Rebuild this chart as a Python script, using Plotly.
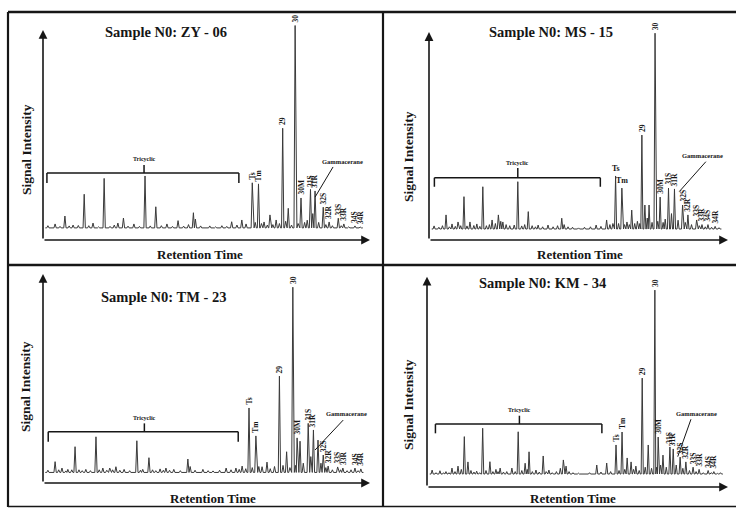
import plotly.graph_objects as go

W, H = 736, 508
FONT = "Liberation Serif"
INK = "#161616"
TRACE = "#3a3a3a"

# Hopane / terpane peak names shared by all four m/z 191 traces
PEAK_TAGS = ["Ts", "Tm", "29", "30", "30M", "31S", "31R", "32S", "32R", "33S", "33R", "34S", "34R"]

# ---- Sample ZY-06 : retention time (% of run) and relative intensity ----
ZY06_BASE = 5.5
ZY06_RT = [1.5, 3.7, 5.2, 6.7, 8.0, 9.2, 10.8, 12.6, 14.0, 15.3, 17.0, 18.7, 20.5, 21.8, 22.9,
           24.6, 26.0, 27.8, 29.5, 31.2, 32.8, 34.5, 36.2, 37.9, 39.6, 41.3, 43.0, 44.5, 46.0,
           46.6, 48.2, 51.0, 52.8, 54.7, 56.2, 57.7, 59.3, 60.8, 62.1, 64.0, 64.9, 65.9, 66.8,
           67.6, 68.6, 69.4, 70.3, 71.3, 72.3, 73.3, 74.2, 75.0, 76.0, 77.1, 78.0, 78.9, 80.0,
           80.8, 81.8, 82.5, 83.2, 84.3, 85.7, 86.5, 87.5, 88.5, 90.3, 91.2, 92.0, 93.5, 95.4, 97.0]
ZY06_INT = [6.5, 7.3, 6.2, 10.9, 6.4, 6.8, 6.6, 20.8, 6.5, 7.7, 6.0, 28.0, 6.2, 6.8, 7.7,
            10.0, 6.3, 7.3, 6.2, 29.1, 6.4, 15.1, 6.5, 7.3, 6.2, 8.8, 6.3, 7.0, 12.4,
            9.5, 6.4, 6.4, 6.0, 6.5, 6.2, 8.3, 6.8, 9.1, 7.3, 26.0, 8.0, 25.5, 7.5,
            8.2, 6.8, 11.4, 7.0, 9.1, 7.5, 50.8, 8.5, 14.4, 6.8, 97.5, 7.5, 19.1, 8.0,
            9.0, 23.0, 12.0, 22.3, 8.0, 14.9, 7.0, 8.2, 6.5, 9.9, 6.5, 7.3, 6.0, 6.4, 5.9]
ZY06_TAG_RT = [64.0, 65.9, 73.3, 77.1, 78.9, 81.8, 83.2, 85.7, 87.5, 90.3, 92.0, 95.4, 97.0]

# ---- Sample MS-15 ----
MS15_BASE = 5.0
MS15_RT = [1.7, 3.3, 4.5, 5.7, 6.8, 7.7, 8.8, 9.7, 10.6, 11.7, 12.7, 13.7, 15.0, 16.0, 17.0,
           18.0, 19.2, 20.2, 21.1, 22.2, 23.2, 24.0, 24.7, 25.8, 27.0, 28.5, 29.7, 31.0, 32.0,
           33.2, 34.5, 35.6, 36.5, 38.0, 39.8, 41.5, 43.0, 44.4, 45.2, 46.5, 48.0, 50.0, 52.0,
           54.0, 55.9, 57.5, 59.4, 60.5, 61.5, 62.4, 63.4, 64.5, 65.4, 66.2, 67.0, 67.8, 68.8,
           69.7, 70.5, 71.2, 72.2, 73.0, 73.6, 74.6, 75.6, 76.5, 77.3, 78.3, 79.0, 80.1, 81.1,
           82.1, 83.3, 84.8, 85.7, 86.6, 87.8, 89.5, 90.4, 91.3, 92.4, 93.3, 94.5, 95.7, 97.0]
MS15_INT = [6.4, 5.8, 6.5, 11.4, 6.0, 7.3, 6.2, 8.2, 6.5, 19.7, 6.4, 8.2, 6.6, 7.3, 6.2,
            24.2, 6.5, 7.0, 9.1, 7.5, 11.4, 8.5, 8.2, 7.0, 6.5, 6.8, 26.5, 6.4, 7.0,
            12.9, 6.5, 6.0, 6.8, 6.0, 6.8, 6.0, 6.5, 9.9, 7.0, 6.0, 5.8, 5.5, 5.8,
            6.0, 6.8, 6.2, 9.1, 7.0, 7.5, 29.1, 7.5, 23.6, 7.0, 8.2, 7.0, 13.6, 7.5,
            8.5, 7.5, 47.7, 15.9, 10.0, 15.9, 8.0, 94.0, 8.5, 19.5, 8.0, 9.5, 23.6, 12.0,
            23.2, 9.0, 15.9, 8.0, 11.4, 7.0, 9.1, 6.5, 7.0, 6.0, 7.0, 5.8, 6.2, 5.6]
MS15_TAG_RT = [62.4, 64.5, 71.2, 75.6, 77.3, 80.1, 82.1, 84.8, 86.6, 89.5, 91.3, 93.3, 95.7]

# ---- Sample TM-23 ----
TM23_BASE = 4.8
TM23_RT = [1.5, 3.7, 4.8, 5.8, 7.0, 7.6, 8.8, 9.8, 11.0, 12.0, 13.1, 14.5, 16.2, 17.2, 18.3,
           19.5, 20.4, 21.3, 22.3, 23.5, 24.8, 26.5, 28.7, 29.8, 30.5, 32.4, 33.5, 34.5, 35.8,
           36.8, 37.6, 38.7, 40.0, 42.0, 44.3, 45.0, 46.5, 48.9, 50.5, 52.0, 54.0, 56.0, 57.5,
           59.0, 60.0, 60.9, 62.0, 63.0, 64.0, 65.1, 66.0, 67.0, 68.5, 69.5, 70.8, 72.3, 73.4,
           74.5, 75.5, 76.4, 77.2, 77.7, 78.6, 79.6, 81.1, 81.9, 82.7, 84.1, 85.0, 85.7, 86.5,
           87.2, 88.5, 90.1, 91.0, 91.7, 93.0, 94.2, 95.4, 96.3, 97.2]
TM23_INT = [5.8, 9.7, 6.0, 6.8, 5.5, 6.2, 6.0, 16.5, 6.0, 5.6, 6.2, 5.6, 21.0, 6.0, 6.8,
            5.8, 6.8, 6.0, 7.4, 5.8, 6.2, 5.6, 19.2, 5.8, 6.2, 11.5, 6.0, 5.6, 6.4,
            5.8, 6.8, 5.8, 6.2, 5.6, 10.9, 7.5, 5.8, 6.2, 5.6, 5.5, 5.8, 6.8, 6.0,
            6.8, 6.2, 7.7, 6.5, 34.1, 7.0, 21.4, 7.5, 7.4, 9.5, 6.5, 7.5, 48.6, 8.0,
            14.2, 7.0, 89.0, 8.0, 20.5, 19.0, 9.0, 27.1, 12.0, 24.1, 19.5, 9.0, 12.7, 7.0,
            7.7, 6.0, 7.3, 6.0, 6.8, 5.6, 6.0, 6.8, 5.6, 6.4]
TM23_TAG_RT = [63.0, 65.1, 72.3, 76.4, 77.7, 81.1, 82.7, 85.7, 87.2, 90.1, 91.7, 95.4, 97.2]

# ---- Sample KM-34 ----
KM34_BASE = 5.9
KM34_RT = [1.7, 3.0, 4.3, 5.5, 6.3, 7.3, 8.3, 9.3, 10.3, 11.4, 12.4, 13.6, 14.6, 15.6, 16.5,
           17.5, 18.5, 19.6, 20.9, 21.9, 22.9, 23.6, 24.3, 25.4, 26.5, 28.2, 29.3, 30.3, 31.5,
           32.6, 33.3, 33.9, 35.0, 36.2, 37.3, 38.6, 39.6, 40.5, 41.6, 43.0, 44.3, 45.3, 46.2,
           47.2, 48.5, 50.3, 52.0, 54.0, 56.4, 57.8, 59.7, 61.0, 62.8, 63.8, 64.8, 65.7, 66.5,
           67.8, 68.6, 69.4, 70.5, 71.5, 72.5, 73.5, 74.6, 75.7, 76.3, 76.8, 77.6, 78.4, 79.5,
           80.7, 81.8, 82.8, 84.1, 85.0, 86.0, 87.2, 88.4, 89.4, 90.4, 91.8, 93.4, 94.4, 95.3,
           96.5, 97.5]
KM34_INT = [7.7, 6.5, 7.4, 6.5, 7.0, 6.5, 8.6, 7.0, 9.5, 8.0, 22.9, 11.4, 7.5, 6.8, 7.2,
            6.5, 26.7, 7.5, 11.5, 7.0, 8.0, 7.0, 8.6, 6.8, 7.0, 8.6, 7.0, 25.1, 7.5,
            10.8, 8.0, 16.0, 7.0, 7.7, 6.8, 14.1, 7.0, 7.7, 6.5, 7.0, 8.5, 12.3, 9.5,
            7.0, 6.5, 6.3, 6.2, 6.5, 10.0, 6.8, 10.9, 7.0, 19.1, 7.5, 25.0, 8.0, 13.2,
            11.4, 8.0, 9.5, 7.5, 49.5, 9.0, 19.1, 8.5, 89.5, 9.0, 22.7, 10.0, 14.5, 9.0,
            18.2, 17.3, 10.0, 13.6, 8.5, 11.4, 7.5, 9.0, 7.0, 8.0, 6.5, 7.5, 6.5, 7.0,
            6.2, 6.5]
KM34_TAG_RT = [62.8, 64.8, 71.5, 75.7, 76.8, 80.7, 81.8, 84.1, 86.0, 88.4, 90.4, 93.4, 95.3]

# Panel geometry in page pixels: plot box x0..x1, x-axis row y0 (100 units = 220 px)
PANELS = [
    dict(title="Sample N0: ZY - 06", rt=ZY06_RT, inten=ZY06_INT, base=ZY06_BASE, tags=ZY06_TAG_RT,
         x0=43, x1=370, y0=240, tip=95.5, title_px=(166, 32), ylab_px=(27, 150), xlab_px=(200, 254),
         bracket=(1.2, 59.9, 30.5, 25.9, 30.9, 34.1), tri_y=37.0,
         gam_text=(91.7, 35.9), gam_line=(88.7, 33.2, 83.2, 19.5), flat=()),
    dict(title="Sample N0: MS - 15", rt=MS15_RT, inten=MS15_INT, base=MS15_BASE, tags=MS15_TAG_RT,
         x0=429, x1=728, y0=240, tip=94.5, title_px=(551, 32), ylab_px=(408, 157), xlab_px=(580, 254),
         bracket=(1.8, 57.3, 28.3, 24.2, 29.7, 32.7), tri_y=35.0,
         gam_text=(91.5, 38.2), gam_line=(92.6, 35.6, 83.7, 22.0), flat=("Ts", "Tm")),
    dict(title="Sample N0: TM - 23", rt=TM23_RT, inten=TM23_INT, base=TM23_BASE, tags=TM23_TAG_RT,
         x0=43, x1=370, y0=483, tip=95.0, title_px=(163, 297), ylab_px=(25, 387), xlab_px=(213, 498),
         bracket=(1.6, 59.7, 23.3, 18.8, 31.0, 27.1), tri_y=29.6,
         gam_text=(92.9, 31.4), gam_line=(91.8, 28.6, 83.2, 15.0), flat=()),
    dict(title="Sample N0: KM - 34", rt=KM34_RT, inten=KM34_INT, base=KM34_BASE, tags=KM34_TAG_RT,
         x0=427, x1=728, y0=487, tip=95.6, title_px=(542, 283), ylab_px=(408, 405), xlab_px=(573, 498),
         bracket=(2.8, 58.1, 28.6, 24.4, 30.7, 32.4), tri_y=34.9,
         gam_text=(89.4, 33.2), gam_line=(87.7, 30.8, 83.3, 13.8), flat=()),
]


def chromatogram(rt, inten, base, half=0.35):
    """Turn a peak table into a spiky baseline trace."""
    xs, ys = [rt[0] - 0.8], [base]
    n = len(rt)
    for i, (x, h) in enumerate(zip(rt, inten)):
        lw = half if i == 0 else min(half, (x - rt[i - 1]) / 2)
        rw = half if i == n - 1 else min(half, (rt[i + 1] - x) / 2)
        xs += [x - lw, x, x + rw]
        ys += [base, h, base]
    xs.append(rt[-1] + 0.8)
    ys.append(base)
    return xs, ys


def paper_x(px):
    return px / W


def paper_y(py):
    return 1 - py / H


fig = go.Figure()
annotations, shapes = [], []
layout_axes = {}
centred = dict(xanchor="center", yanchor="middle")

for i, p in enumerate(PANELS):
    sfx = "" if i == 0 else str(i + 1)
    xa, ya = "x" + sfx, "y" + sfx
    layout_axes["xaxis" + sfx] = dict(domain=[paper_x(p["x0"]), paper_x(p["x1"])], range=[0, 100],
                                      visible=False, anchor=ya, fixedrange=True)
    layout_axes["yaxis" + sfx] = dict(domain=[paper_y(p["y0"]), paper_y(p["y0"] - 220)], range=[0, 100],
                                      visible=False, anchor=xa, fixedrange=True)

    xs, ys = chromatogram(p["rt"], p["inten"], p["base"])
    fig.add_trace(go.Scatter(x=xs, y=ys, xaxis=xa, yaxis=ya, mode="lines",
                             line=dict(color=TRACE, width=1), hoverinfo="skip", showlegend=False))

    # axis arrows
    for hx, hy in ((100, 0), (0, p["tip"])):
        annotations.append(dict(x=hx, y=hy, ax=0, ay=0, xref=xa, yref=ya, axref=xa, ayref=ya,
                                text="", showarrow=True, arrowhead=2, arrowsize=1.1,
                                arrowwidth=1.6, arrowcolor=INK))

    # titles
    bold = dict(family=FONT, color=INK, weight="bold")
    annotations.append(dict(x=paper_x(p["title_px"][0]), y=paper_y(p["title_px"][1]), xref="paper",
                            yref="paper", text=p["title"], showarrow=False,
                            font=dict(size=14.5, **bold), **centred))
    annotations.append(dict(x=paper_x(p["ylab_px"][0]), y=paper_y(p["ylab_px"][1]), xref="paper",
                            yref="paper", text="Signal Intensity", textangle=-90, showarrow=False,
                            font=dict(size=13.5, **bold), **centred))
    annotations.append(dict(x=paper_x(p["xlab_px"][0]), y=paper_y(p["xlab_px"][1]), xref="paper",
                            yref="paper", text="Retention Time", showarrow=False,
                            font=dict(size=13, **bold), **centred))

    # peak names sit on top of their peaks
    for name, trt in zip(PEAK_TAGS, p["tags"]):
        h = p["inten"][p["rt"].index(trt)]
        flat = name in p["flat"]
        annotations.append(dict(x=trt, y=h, xref=xa, yref=ya, text=name, showarrow=False,
                                textangle=0 if flat else -90, xanchor="center", yanchor="bottom",
                                yshift=1, font=dict(size=7.5 if not flat else 8, **bold)))

    # tricyclic bracket
    bx0, bx1, by, bfoot, bmid, btop = p["bracket"]
    line = dict(color=INK, width=1.5)
    for seg in ((bx0, by, bx1, by), (bx0, by, bx0, bfoot), (bx1, by, bx1, bfoot), (bmid, by, bmid, btop)):
        shapes.append(dict(type="line", xref=xa, yref=ya, x0=seg[0], y0=seg[1], x1=seg[2], y1=seg[3],
                           line=line))
    annotations.append(dict(x=bmid, y=p["tri_y"], xref=xa, yref=ya, text="Tricyclic", showarrow=False,
                            font=dict(size=6, **bold), **centred))

    # gammacerane pointer
    gx, gy = p["gam_text"]
    annotations.append(dict(x=gx, y=gy, xref=xa, yref=ya, text="Gammacerane", showarrow=False,
                            font=dict(size=6.5, **bold), **centred))
    g = p["gam_line"]
    shapes.append(dict(type="line", xref=xa, yref=ya, x0=g[0], y0=g[1], x1=g[2], y1=g[3],
                       line=dict(color=INK, width=1)))

# frame and dividers of the 2x2 figure
frame = [((8, 12), (736, 12), 2.6), ((8, 12), (8, 507), 2.2), ((383, 12), (383, 507), 2.2),
         ((8, 265), (736, 265), 2.4), ((8, 506.5), (736, 506.5), 1.5)]
for (xa0, ya0), (xa1, ya1), lw in frame:
    shapes.append(dict(type="line", xref="paper", yref="paper", x0=paper_x(xa0), y0=paper_y(ya0),
                       x1=paper_x(xa1), y1=paper_y(ya1), line=dict(color=INK, width=lw)))

fig.update_layout(width=W, height=H, margin=dict(l=0, r=0, t=0, b=0), paper_bgcolor="white",
                  plot_bgcolor="white", showlegend=False, annotations=annotations, shapes=shapes,
                  **layout_axes)

fig.write_html("out.html")
